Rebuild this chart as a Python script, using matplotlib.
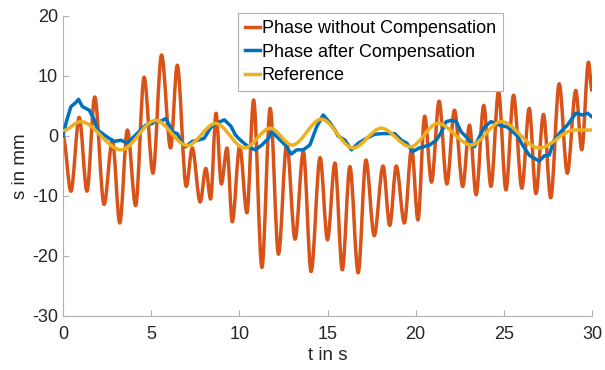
import matplotlib
matplotlib.use("Agg")
import matplotlib.pyplot as plt
from matplotlib.path import Path
from matplotlib.patches import PathPatch
from matplotlib.lines import Line2D

# values (extrema / sample points)
t_raw = [0.0, 0.45, 0.92, 1.36, 1.8, 2.33, 2.8, 3.22, 3.65, 4.12, 4.6, 5.1, 5.59,
         6.1, 6.48, 6.99, 7.33, 7.78, 8.1, 8.37, 8.68, 8.98, 9.3, 9.6, 10.02,
         10.43, 10.81, 11.28, 11.75, 12.22, 12.69, 13.16, 13.63, 14.07, 14.58,
         15.0, 15.42, 15.84, 16.27, 16.74, 17.18, 17.65, 18.15, 18.53, 18.9,
         19.36, 19.77, 20.13, 20.51, 20.9, 21.33, 21.77, 22.2, 22.67, 23.05,
         23.43, 23.86, 24.27, 24.7, 25.12, 25.55, 26.02, 26.44, 26.82, 27.25,
         27.66, 28.14, 28.6, 29.08, 29.42, 29.8, 30.0]
s_raw = [0.0, -9.2, 3.1, -9.2, 6.5, -11.4, -0.7, -14.5, 1.0, -11.6, 9.8, -6.2, 13.5,
         -2.0, 11.8, -8.4, -2.0, -11.0, -5.4, -10.5, 3.8, -8.0, -2.0, -14.3, -1.7,
         -12.8, 6.0, -21.9, 4.6, -19.7, -1.2, -17.2, -2.6, -22.6, -3.6,
         -17.3, -4.5, -22.3, -5.1, -22.8, -4.0, -16.6, -5.0, -14.9, -5.0,
         -14.5, -2.0, -14.0, 3.3, -7.7, 5.8, -8.0, 4.3, -8.4, 1.8,
         -9.8, 5.1, -8.4, 7.4, -9.0, 6.8, -8.7, 4.6, -9.6, 3.6,
         -10.3, 8.7, -6.2, 7.6, -2.3, 12.3, 7.5]

t_comp = [0.0, 0.2, 0.45, 0.7, 0.88, 1.1, 1.49, 1.77, 1.96, 2.33, 2.62, 2.9, 3.28,
          3.65, 4.03, 4.5, 4.69, 5.07, 5.25, 5.5, 5.82, 6.0, 6.2, 6.48, 6.76, 6.95,
          7.33, 7.64, 8.0, 8.4, 8.7, 9.15, 9.53, 9.77, 9.96, 10.14, 10.52, 10.9,
          11.28, 11.65, 11.84, 12.22, 12.6, 12.94, 13.26, 13.63, 14.0, 14.38,
          14.75, 15.14, 15.42, 15.6, 15.99, 16.36, 16.74, 17.21, 17.68, 18.15,
          18.81, 19.19, 19.5, 19.82, 20.2, 20.79, 21.17, 21.45, 21.73, 22.01,
          22.3, 22.58, 22.95, 23.33, 23.52, 23.9, 24.27, 24.75, 25.2, 25.78,
          26.06, 26.44, 27.01, 27.29, 27.57, 27.85, 28.23, 28.6, 29.08, 29.46,
          29.74, 30.0]
s_comp = [0.0, 2.5, 4.9, 5.5, 6.1, 4.9, 4.3, 2.7, 1.0, 0.2, -0.4, -0.9, -0.7,
          -1.2, -0.1, 1.3, 1.8, 2.1, 2.6, 2.4, 2.9, 2.0, 0.7, 0.4, -1.2, -1.8,
          -0.9, -0.7, -0.4, 1.5, 2.1, 2.7, 1.6, 0.2, -0.4, -0.9, -1.8, -2.3,
          -1.5, -0.4, 0.7, -0.4, -1.5, -3.0, -2.3, -2.3, -1.5, 1.5,
          3.5, 2.2, 1.0, 0.0, -0.7, -2.3, -1.2, -0.4, 0.3, 0.4,
          0.4, -0.7, -1.2, -2.6, -2.0, -1.5, -0.7, 0.6, 2.4, 2.6,
          2.4, 0.7, -0.4, -1.8, -0.7, 1.5, 2.4, 1.8, 1.5, 0.0,
          -1.5, -3.2, -4.2, -3.3, -3.2, -0.7, 0.7, 1.8, 3.8, 3.5,
          3.8, 3.2]

t_ref = [0.0, 1.0, 3.3, 5.25, 7.05, 8.65, 10.3, 11.75, 13.0, 14.65, 16.45,
         18.05, 19.7, 21.25, 23.15, 24.85, 27.0, 29.0, 30.0]
s_ref = [0.9, 2.4, -2.3, 2.6, -1.6, 2.1, -2.0, 1.3, -1.5, 2.8, -2.0,
         1.3, -1.8, 2.1, -1.5, 2.4, -2.0, 1.0, 1.0]

ORANGE, BLUE, YELLOW = "#D95319", "#0072BD", "#EDB120"
LW = 2.5

plt.rcParams["font.family"] = ["Liberation Sans", "DejaVu Sans"]
plt.rcParams["axes.unicode_minus"] = False


def smooth_path(xs, ys):
    # cubic segments with flat tangents at each read-off extremum
    verts = [(xs[0], ys[0])]
    codes = [Path.MOVETO]
    for x0, y0, x1, y1 in zip(xs[:-1], ys[:-1], xs[1:], ys[1:]):
        dx = (x1 - x0) / 3
        verts += [(x0 + dx, y0), (x1 - dx, y1), (x1, y1)]
        codes += [Path.CURVE4] * 3
    return Path(verts, codes)


fig = plt.figure(figsize=(6.05, 3.70), dpi=100)
ax = fig.add_axes([63 / 605, 1 - 316 / 370, 529 / 605, 300 / 370])

ax.add_patch(PathPatch(smooth_path(t_raw, s_raw), fill=False, edgecolor=ORANGE, lw=LW,
                       joinstyle="round", capstyle="butt", transform=ax.transData,
                       zorder=2))
ax.plot(t_comp, s_comp, color=BLUE, lw=LW, zorder=3)
ax.add_patch(PathPatch(smooth_path(t_ref, s_ref), fill=False, edgecolor=YELLOW, lw=LW,
                       capstyle="butt", transform=ax.transData, zorder=4))

ax.set_xlim(0, 30)
ax.set_ylim(-30, 20)
ax.set_xticks(range(0, 31, 5))
ax.set_yticks(range(-30, 21, 10))
ax.tick_params(direction="in", length=4, width=0.8, color="#b0b0b0",
               labelsize=13, labelcolor="#262626")
ax.tick_params(axis="x", pad=7)
ax.tick_params(axis="y", pad=3.5)
ax.spines[["top", "right"]].set_visible(False)
for side in ("left", "bottom"):
    ax.spines[side].set_color("#b0b0b0")
    ax.spines[side].set_linewidth(0.8)

ax.set_xlabel("t in s", fontsize=13.5, color="#262626", labelpad=3)
ax.set_ylabel("s in mm", fontsize=13.5, color="#262626", labelpad=2)

handles = [Line2D([], [], color=c, lw=LW) for c in (ORANGE, BLUE, YELLOW)]
labels = ["Phase without Compensation", "Phase after Compensation", "Reference"]
leg = ax.legend(handles, labels, loc="upper left", bbox_to_anchor=(0.331, 1.01),
                fontsize=13.0, handlelength=0.8, handletextpad=0.1, labelspacing=0.35,
                borderpad=0.4, borderaxespad=0, fancybox=False, framealpha=1)
leg.set_zorder(5)
leg.get_frame().set_edgecolor("#b0b0b0")
leg.get_frame().set_linewidth(0.8)

fig.savefig("out.png", dpi=100)
